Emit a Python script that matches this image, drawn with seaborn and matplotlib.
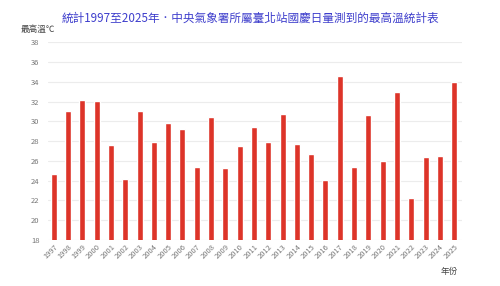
import matplotlib
matplotlib.use("Agg")
import matplotlib.pyplot as plt
import seaborn as sns
import pandas as pd

years = [str(y) for y in range(1997, 2026)]
temps = [24.7, 31.0, 32.2, 32.1, 27.6, 24.2, 31.0, 27.9, 29.8, 29.2,
         25.4, 30.4, 25.3, 27.5, 29.4, 27.9, 30.7, 27.7, 26.7, 24.1,
         34.6, 25.4, 30.6, 26.0, 33.0, 22.2, 26.4, 26.5, 34.0]
yticks = list(range(18, 39, 2))

title = "統計1997至2025年．中央氣象署所屬臺北站國慶日量測到的最高溫統計表"

sns.set_theme(style="white")
plt.rcParams['font.family'] = ['Noto Sans CJK TC', 'DejaVu Sans']

df = pd.DataFrame({"year": years, "temp": temps})

fig = plt.figure(figsize=(5.0, 2.86), dpi=100)
ax = fig.add_axes([0.096, 0.161, 0.828, 0.691])

sns.barplot(data=df, x="year", y="temp", color="#dd3429", width=0.42,
            saturation=1, ax=ax, zorder=3)

ax.set_ylim(18, 38)
ax.set_yticks(yticks)
ax.set_xlim(-0.4, 28.55)
ax.yaxis.grid(True, color="#ececec", linewidth=0.8, zorder=0)
for s in ax.spines.values():
    s.set_visible(False)
ax.tick_params(axis="y", length=0, labelsize=5.5, labelcolor="#777777", pad=6)
ax.tick_params(axis="x", length=0, labelsize=5.4, labelcolor="#777777", pad=2)
for lab in ax.get_xticklabels():
    lab.set_rotation(45)
    lab.set_ha("right")
    lab.set_rotation_mode("anchor")
ax.set_xlabel("")
ax.set_ylabel("")

fig.text(0.5, 0.935, title, ha="center", va="center", fontsize=8.4,
         color="#3d3dcc")
fig.text(0.042, 0.897, "最高溫℃", ha="left", va="center", fontsize=6.2,
         color="#444444")
fig.text(0.882, 0.049, "年份", ha="left", va="center", fontsize=6.2,
         color="#444444")

fig.savefig("out.png", dpi=100, facecolor="white")
